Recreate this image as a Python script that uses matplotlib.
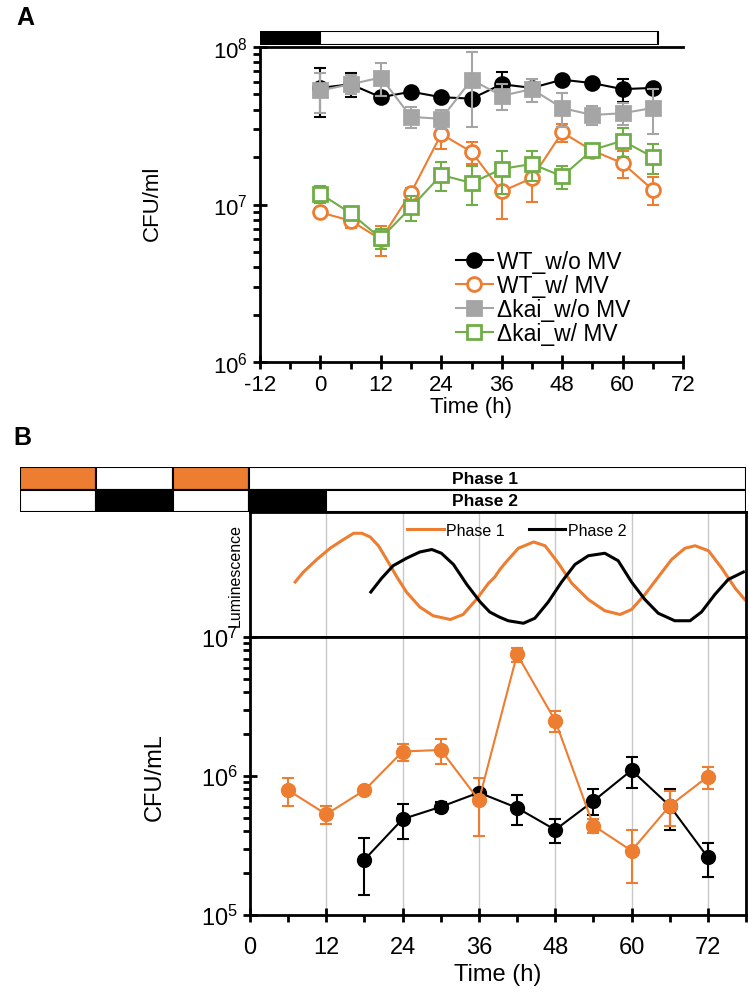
import numpy as np
import matplotlib.pyplot as plt
from matplotlib.patches import Rectangle
from matplotlib.ticker import LogLocator, MultipleLocator, NullFormatter, NullLocator

plt.rcParams['font.family'] = ['Liberation Sans', 'DejaVu Sans']
plt.rcParams['mathtext.fontset'] = 'custom'
plt.rcParams['mathtext.rm'] = 'Liberation Sans'
plt.rcParams['axes.linewidth'] = 2.0
plt.rcParams['axes.unicode_minus'] = False

ORANGE = '#ED7D31'
GRAY = '#A5A5A5'
GREEN = '#70AD47'

# ---- panel A data (CFU/ml, mean and SD) ----
time_a = [0, 6, 12, 18, 24, 30, 36, 42, 48, 54, 60, 66]
wt_wo = [5.5e7, 5.8e7, 4.8e7, 5.2e7, 4.8e7, 4.7e7, 5.8e7, 5.5e7, 6.2e7, 5.9e7, 5.4e7, 5.5e7]
wt_wo_sd = [1.9e7, 1.0e7, 0.2e7, 0.2e7, 0.2e7, 0.2e7, 1.1e7, 0.3e7, 0.2e7, 0.2e7, 0.9e7, 0.2e7]
wt_w = [8.9e6, 7.9e6, 6.0e6, 1.19e7, 2.8e7, 2.16e7, 1.21e7, 1.47e7, 2.87e7, 2.2e7, 1.83e7, 1.24e7]
wt_w_sd = [0.4e6, 0.8e6, 1.3e6, 0.8e6, 0.55e7, 0.35e7, 0.4e7, 0.43e7, 0.36e7, 0.1e7, 0.36e7, 0.25e7]
kai_wo = [5.3e7, 5.8e7, 6.4e7, 3.6e7, 3.5e7, 6.2e7, 4.9e7, 5.4e7, 4.1e7, 3.7e7, 3.8e7, 4.1e7]
kai_wo_sd = [1.5e7, 0.8e7, 1.5e7, 0.55e7, 0.5e7, 3.1e7, 0.9e7, 0.9e7, 1.0e7, 0.5e7, 0.6e7, 1.3e7]
kai_w = [1.17e7, 8.8e6, 6.1e6, 9.6e6, 1.54e7, 1.37e7, 1.68e7, 1.81e7, 1.51e7, 2.22e7, 2.54e7, 2.0e7]
kai_w_sd = [0.15e7, 0.4e6, 0.85e6, 0.18e7, 0.33e7, 0.38e7, 0.52e7, 0.39e7, 0.25e7, 0.1e7, 0.53e7, 0.43e7]
ld_a = [(-12, 0, 'black'), (0, 67, 'white')]

# ---- panel B data ----
time_p1 = [6, 12, 18, 24, 30, 36, 42, 48, 54, 60, 66, 72]
cfu_p1 = [7.9e5, 5.3e5, 7.9e5, 1.5e6, 1.54e6, 6.7e5, 7.5e6, 2.5e6, 4.4e5, 2.9e5, 6.1e5, 9.9e5]
cfu_p1_sd = [1.85e5, 0.75e5, 0.4e5, 2.1e5, 3.1e5, 3.0e5, 8.8e5, 4.4e5, 0.53e5, 1.2e5, 1.7e5, 1.78e5]
time_p2 = [18, 24, 30, 36, 42, 48, 54, 60, 66, 72]
cfu_p2 = [2.5e5, 4.9e5, 6.0e5, 7.6e5, 5.9e5, 4.1e5, 6.6e5, 1.1e6, 6.1e5, 2.6e5]
cfu_p2_sd = [1.1e5, 1.4e5, 0.5e5, 0.3e5, 1.45e5, 0.8e5, 1.4e5, 2.8e5, 2.0e5, 0.72e5]

# luminescence traces (arbitrary units)
lum_t1 = [7.1, 8.4, 10.5, 12.6, 14.7, 16.3, 17.6, 18.9, 20.2, 21.5, 23.1, 24.6, 26.7, 28.8,
          31.5, 33.5, 35.6, 37.5, 38.5, 39.3, 40.1, 42.2, 44.6, 46.4, 48.5, 50.6, 53.2,
          55.8, 58.2, 60.0, 62.1, 64.2, 66.3, 68.4, 70.0, 72.1, 74.2, 76.3, 77.8]
lum_v1 = [0.44, 0.52, 0.62, 0.71, 0.78, 0.83, 0.83, 0.80, 0.73, 0.62, 0.48, 0.36, 0.24, 0.17,
          0.14, 0.18, 0.30, 0.43, 0.48, 0.54, 0.59, 0.71, 0.76, 0.73, 0.59, 0.43, 0.30,
          0.21, 0.18, 0.22, 0.34, 0.48, 0.62, 0.71, 0.73, 0.69, 0.55, 0.39, 0.30]
lum_t2 = [19.0, 20.7, 22.5, 24.6, 26.7, 28.6, 30.1, 32.0, 34.1, 36.2, 37.7, 39.2, 40.6,
          43.0, 44.8, 46.9, 49.0, 51.1, 53.2, 55.8, 57.9, 60.0, 62.1, 64.2, 66.8, 69.2,
          71.0, 73.1, 75.2, 77.6]
lum_v2 = [0.36, 0.47, 0.57, 0.63, 0.68, 0.70, 0.67, 0.58, 0.42, 0.28, 0.20, 0.16, 0.13,
          0.11, 0.15, 0.28, 0.44, 0.58, 0.65, 0.67, 0.61, 0.44, 0.30, 0.19, 0.13, 0.13,
          0.20, 0.34, 0.46, 0.52]

# light/dark schedule above panel B (start, end, colour)
row_p1 = [(-36, -24, ORANGE), (-24, -12, 'white'), (-12, 0, ORANGE), (0, 78, 'white')]
row_p2 = [(-36, -24, 'white'), (-24, -12, 'black'), (-12, 0, 'white'), (0, 12, 'black'), (12, 78, 'white')]

W, H = 749, 995
fig = plt.figure(figsize=(W / 100, H / 100), dpi=100)


def rect(x0, y0, x1, y1):
    return [x0 / W, 1 - y1 / H, (x1 - x0) / W, (y1 - y0) / H]


# ================= Panel A =================
axA = fig.add_axes(rect(260, 48, 683, 363))
axA.set_yscale('log')
series = [
    (wt_wo, wt_wo_sd, 'black', 'o', 'black', 'WT_w/o MV'),
    (wt_w, wt_w_sd, ORANGE, 'o', 'white', 'WT_w/ MV'),
    (kai_wo, kai_wo_sd, GRAY, 's', GRAY, 'Δkai_w/o MV'),
    (kai_w, kai_w_sd, GREEN, 's', 'white', 'Δkai_w/ MV'),
]
for vals, sd, col, mk, fc, lab in series:
    axA.errorbar(time_a, vals, yerr=sd, fmt='none', ecolor=col, elinewidth=1.5,
                 capsize=4, capthick=1.5)
    axA.plot(time_a, vals, color=col, lw=1.5, marker=mk, ms=10,
             mfc=fc, mec=col, mew=2, label=lab)
axA.set_xlim(-12, 72)
axA.set_ylim(1e6, 1e8)
axA.xaxis.set_major_locator(MultipleLocator(12))
axA.xaxis.set_minor_locator(MultipleLocator(6))
axA.yaxis.set_major_locator(LogLocator(base=10, numticks=5))
axA.yaxis.set_minor_locator(LogLocator(base=10, subs=np.arange(2, 10), numticks=10))
axA.yaxis.set_minor_formatter(NullFormatter())
axA.spines['right'].set_visible(False)
axA.tick_params(axis='both', which='major', direction='inout', length=10, width=2,
                labelsize=16)
axA.tick_params(axis='both', which='minor', direction='out', length=5, width=2)
axA.set_xlabel('Time (h)', fontsize=16, labelpad=1)
fig.text(152 / W, 1 - 203 / H, 'CFU/ml', rotation=90, ha='center', va='center', fontsize=16)
axA.legend(loc='upper left', bbox_to_anchor=(456 / W, 1 - 251 / H),
           bbox_transform=fig.transFigure, frameon=False, fontsize=16.5,
           handlelength=1.6, handletextpad=0.2, labelspacing=0.04, borderaxespad=0,
           borderpad=0)

barA = fig.add_axes(rect(260, 32, 683, 46))
for a, b, c in ld_a:
    barA.add_patch(Rectangle((a, 0), b - a, 1, facecolor=c, edgecolor='black', lw=1.5))
barA.set_xlim(-12, 72)
barA.set_ylim(0, 1)
barA.set_axis_off()

fig.text(25 / W, 1 - 18 / H, 'A', fontsize=18, fontweight='bold', ha='center', va='center')

# ================= Panel B =================
barB = fig.add_axes(rect(20, 468, 746, 513))
for a, b, c in row_p1:
    barB.add_patch(Rectangle((a, 1), b - a, 1, facecolor=c, edgecolor='black', lw=1.5))
for a, b, c in row_p2:
    barB.add_patch(Rectangle((a, 0), b - a, 1, facecolor=c, edgecolor='black', lw=1.5))
barB.text(37, 1.5, 'Phase 1', ha='center', va='center', fontsize=12.5, fontweight='bold')
barB.text(37, 0.5, 'Phase 2', ha='center', va='center', fontsize=12.5, fontweight='bold')
barB.set_xlim(-36, 78)
barB.set_ylim(0, 2)
barB.set_axis_off()

axL = fig.add_axes(rect(250, 513, 746, 638))
axL.plot(lum_t1, lum_v1, color=ORANGE, lw=2.2, label='Phase 1')
axL.plot(lum_t2, lum_v2, color='black', lw=2.2, label='Phase 2')
axL.set_xlim(0, 78)
axL.set_ylim(0, 1)
axL.xaxis.set_major_locator(MultipleLocator(12))
axL.grid(axis='x', color='#C8C8C8', lw=1)
axL.tick_params(length=0, labelbottom=False, labelleft=False)
axL.yaxis.set_major_locator(NullLocator())
axL.set_ylabel('Luminescence', fontsize=11.5, labelpad=5)
axL.legend(loc='center left', bbox_to_anchor=(407 / W, 1 - 531 / H),
           bbox_transform=fig.transFigure, ncol=2, frameon=False, fontsize=11.5,
           handlelength=2.3, handletextpad=0.15, columnspacing=1.5,
           borderpad=0, borderaxespad=0)

axB = fig.add_axes(rect(250, 638, 746, 916))
axB.set_yscale('log')
axB.errorbar(time_p2, cfu_p2, yerr=cfu_p2_sd, color='black', lw=1.5, marker='o', ms=10,
             elinewidth=1.5, capsize=4, capthick=1.5)
axB.errorbar(time_p1, cfu_p1, yerr=cfu_p1_sd, color=ORANGE, lw=1.5, marker='o', ms=10,
             elinewidth=1.5, capsize=4, capthick=1.5)
axB.set_xlim(0, 78)
axB.set_ylim(1e5, 1e7)
axB.xaxis.set_major_locator(MultipleLocator(12))
axB.xaxis.set_minor_locator(MultipleLocator(6))
axB.yaxis.set_major_locator(LogLocator(base=10, numticks=5))
axB.yaxis.set_minor_locator(LogLocator(base=10, subs=np.arange(2, 10), numticks=10))
axB.yaxis.set_minor_formatter(NullFormatter())
axB.grid(axis='x', which='major', color='#C8C8C8', lw=1)
axB.set_axisbelow(True)
axB.tick_params(axis='both', which='major', direction='inout', length=10, width=2,
                labelsize=17)
axB.tick_params(axis='x', which='major', pad=10)
axB.tick_params(axis='both', which='minor', direction='out', length=5, width=2)
axB.set_xlabel('Time (h)', fontsize=17, labelpad=4)
fig.text(155 / W, 1 - 777 / H, 'CFU/mL', rotation=90, ha='center', va='center', fontsize=17)

fig.text(22 / W, 1 - 438 / H, 'B', fontsize=18, fontweight='bold', ha='center', va='center')

fig.savefig('out.png', dpi=100)
